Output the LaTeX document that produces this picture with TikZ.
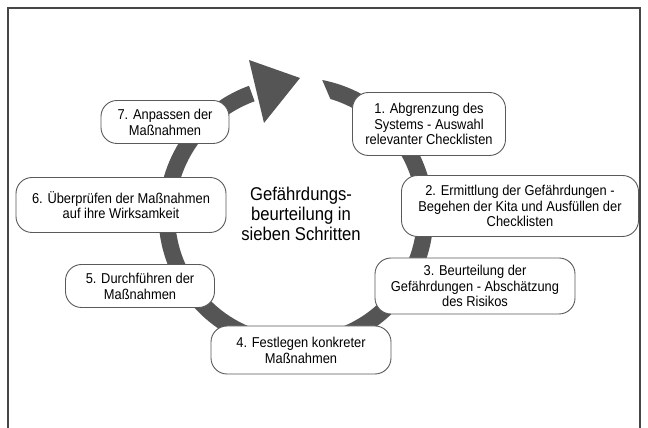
\documentclass[tikz,border=0pt]{standalone}
\usepackage{fontspec}
\setmainfont{Liberation Sans}[FakeStretch=0.9]
\definecolor{ringgray}{RGB}{85,85,85}
\definecolor{boxline}{RGB}{90,90,90}
\definecolor{framegray}{RGB}{70,70,70}
\begin{document}
\begin{tikzpicture}[x=1pt,y=1pt,
  stepbox/.style={draw=boxline, line width=0.9pt, fill=white, rounded corners=16pt,
    align=center, inner sep=0pt, font=\fontsize{14.3}{15.8}\selectfont},
  ring/.style={fill=ringgray, draw=none}]
\useasboundingbox (0,0) rectangle (648,428);
\fill[white] (0,0) rectangle (648,428);
% frame (top, left, right)
\draw[framegray, line width=1.4pt] (8,0) -- (8,420) -- (640,420) -- (640,0);
% ring
\coordinate (c) at (296,213);
\fill[ring] ([shift={(c)}]79:137.5) arc[start angle=79, end angle=-250, radius=137.5]
  -- ([shift={(c)}]-250:121) arc[start angle=-250, end angle=73.5, radius=121] -- cycle;
% arrowhead
\coordinate (ha) at (249,368);
\coordinate (hb) at (300,350);
\coordinate (hc) at (264,305);
\fill[ring] (ha) -- (hb) -- (hc) -- cycle;
% boxes
\node[stepbox, minimum width=153pt, minimum height=63pt] (s1) at (429,304)
  {1. Abgrenzung des\\Systems - Auswahl\\relevanter Checklisten};
\node[stepbox, minimum width=237pt, minimum height=61pt] (s2) at (520,222)
  {2. Ermittlung der Gefährdungen -\\Begehen der Kita und Ausfüllen der\\Checklisten};
\node[stepbox, minimum width=200pt, minimum height=56pt] (s3) at (475,142)
  {3. Beurteilung der\\Gefährdungen - Abschätzung\\des Risikos};
\node[stepbox, minimum width=180pt, minimum height=48pt] (s4) at (301,78)
  {4. Festlegen konkreter\\Maßnahmen};
\node[stepbox, minimum width=149pt, minimum height=43pt] (s5) at (140,142)
  {5. Durchführen der\\Maßnahmen};
\node[stepbox, minimum width=210pt, minimum height=55pt] (s6) at (121,223)
  {6. Überprüfen der Maßnahmen\\auf ihre Wirksamkeit};
\node[stepbox, minimum width=128pt, minimum height=43pt] (s7) at (165,306)
  {7. Anpassen der\\Maßnahmen};
% centre title
\node[align=center, font=\fontsize{18.5}{20}\selectfont] (title) at (301,214)
  {Gefährdungs-\\beurteilung in\\sieben Schritten};
\end{tikzpicture}
\end{document}
